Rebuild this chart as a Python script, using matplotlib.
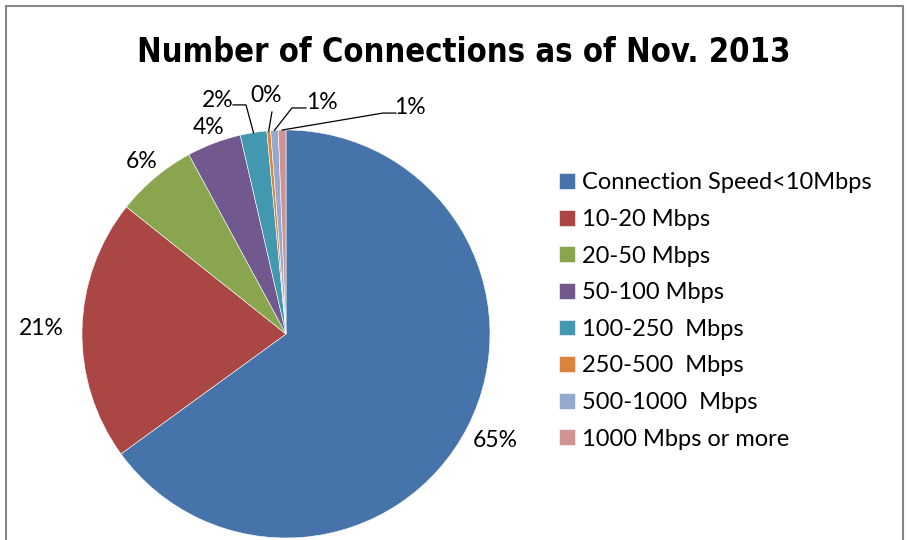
import numpy as np
import matplotlib
matplotlib.use("Agg")
import matplotlib.pyplot as plt
from matplotlib.patches import Rectangle

categorias = ["Connection Speed<10Mbps", "10-20 Mbps", "20-50 Mbps", "50-100 Mbps",
              "100-250  Mbps", "250-500  Mbps", "500-1000  Mbps", "1000 Mbps or more"]
porcentajes = [65.0, 20.7, 6.4, 4.3, 2.1, 0.3, 0.6, 0.6]
colores = ["#4674AA", "#AA4744", "#89A54E", "#71588F", "#4198AF", "#DB843D", "#93A9CF", "#D19392"]

fuente = ["Lato", "DejaVu Sans"]

fig = plt.figure(figsize=(9.07, 5.40), dpi=100)
W, H = 907, 540
cx, cy, r = 286, 334, 204
ax = fig.add_axes([(cx - r) / W, (H - cy - r) / H, 2 * r / W, 2 * r / H])

wedges, _ = ax.pie(porcentajes, colors=colores, startangle=90, counterclock=False,
                   wedgeprops=dict(linewidth=0.4, edgecolor="white"))
ax.set_xlim(-1, 1)
ax.set_ylim(-1, 1)
ax.set_aspect("equal")
ax.axis("off")

etiquetas = [f"{round(p)}%" for p in porcentajes]

# big slices: label outside along the wedge middle
distancias = [1.15, 1.2, 1.1, 1.08]
for i, d in enumerate(distancias):
    w = wedges[i]
    ang = np.deg2rad((w.theta1 + w.theta2) / 2)
    ax.text(d * np.cos(ang), d * np.sin(ang), etiquetas[i], ha="center", va="center",
            fontsize=16.5, family=fuente, clip_on=False)

# small slices: label with leader line (text pos, knee pos)
pequenos = {
    4: ((-0.333, 1.147), [(-0.26, 1.123), (-0.196, 1.123)]),
    5: ((-0.098, 1.167), [(-0.069, 1.088)]),
    6: ((0.176, 1.137), [(0.098, 1.108), (0.029, 1.108)]),
    7: ((0.608, 1.108), [(0.539, 1.083), (0.475, 1.083)]),
}
for i, (pos, puntos) in pequenos.items():
    w = wedges[i]
    ang = np.deg2rad((w.theta1 + w.theta2) / 2)
    ax.text(pos[0], pos[1], etiquetas[i], ha="center", va="center",
            fontsize=16.5, family=fuente, clip_on=False)
    xs = [p[0] for p in puntos] + [np.cos(ang)]
    ys = [p[1] for p in puntos] + [np.sin(ang)]
    ax.plot(xs, ys, color="black", lw=0.9, clip_on=False)

fig.text(464 / W, 1 - 52 / H, "Number of Connections as of Nov. 2013", ha="center", va="center",
         fontsize=23.5, fontweight="bold", fontstretch="condensed", family=["DejaVu Sans"])

fig.legend(wedges, categorias, loc="upper left", bbox_to_anchor=(550 / W, 1 - 163 / H),
           frameon=False, prop=dict(family=fuente, size=17), handlelength=0.65,
           handleheight=0.65, handletextpad=0.3, labelspacing=0.66, borderaxespad=0)

fig.add_artist(Rectangle((6 / W, -0.05), 897 / W, 1.05 - 6 / H, transform=fig.transFigure,
                         fill=False, edgecolor="#868686", lw=1.5))

fig.savefig("out.png", dpi=100)
